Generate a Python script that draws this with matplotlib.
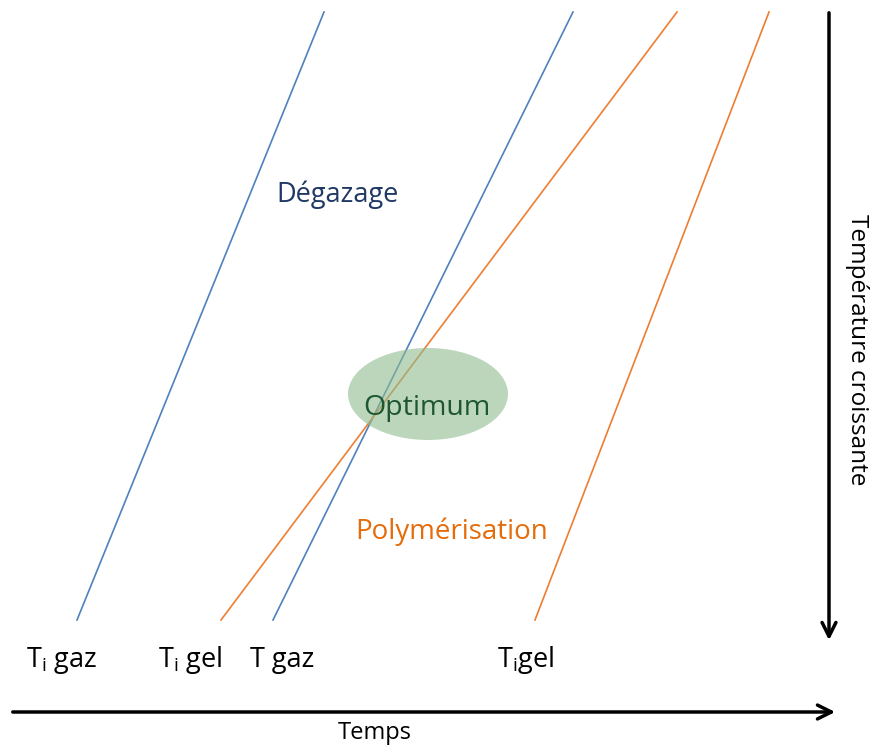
import numpy as np
import matplotlib.pyplot as plt
from matplotlib.patches import Ellipse

# lignes (x bas, x haut) en pixels du schema, y bas = 620, y haut = 12
blue_lines = [(77, 324), (273, 573)]
orange_lines = [(221, 677), (535, 769)]
y_bottom, y_top = 620, 12

bottom_labels = [r'T$_\mathregular{i}$ gaz', r'T$_\mathregular{i}$ gel', 'T gaz', r'T$_\mathregular{i}$gel']
bottom_x = [26, 158, 250, 497]

plt.rcParams['font.family'] = ['Open Sans', 'DejaVu Sans']

fig = plt.figure(figsize=(8.73, 7.47), dpi=100)
ax = fig.add_axes([0, 0, 1, 1])
ax.set_xlim(0, 873)
ax.set_ylim(747, 0)
ax.axis('off')

for x0, x1 in blue_lines:
    ax.plot([x0, x1], [y_bottom, y_top], color='#4f81bd', lw=1.2)
for x0, x1 in orange_lines:
    ax.plot([x0, x1], [y_bottom, y_top], color='#ed7d31', lw=1.2)

# zone optimum
ax.add_patch(Ellipse((428, 394), 160, 92, color='#8fbc8f', alpha=0.6, lw=0, zorder=3))
ax.text(427, 408, 'Optimum', color='#1e5631', fontsize=20.5, ha='center', va='center', zorder=4)

ax.text(276, 195, 'Dégazage', color='#1f3864', fontsize=19.5, ha='left', va='center')
ax.text(355, 532, 'Polymérisation', color='#e46c0a', fontsize=20, ha='left', va='center')

for lab, x in zip(bottom_labels, bottom_x):
    ax.text(x, 660, lab, fontsize=19.5, ha='left', va='center')

# fleches
ax.annotate('', xy=(838, 712), xytext=(10, 712),
            arrowprops=dict(arrowstyle='->', lw=2.5, color='black', mutation_scale=25))
ax.annotate('', xy=(829, 643), xytext=(829, 10),
            arrowprops=dict(arrowstyle='->', lw=2.5, color='black', mutation_scale=25))
ax.text(375, 733, 'Temps', fontsize=17, ha='center', va='center')
ax.text(857, 350, 'Température croissante', fontsize=17.5, rotation=-90,
        ha='center', va='center')

plt.savefig('out.png', dpi=100)
